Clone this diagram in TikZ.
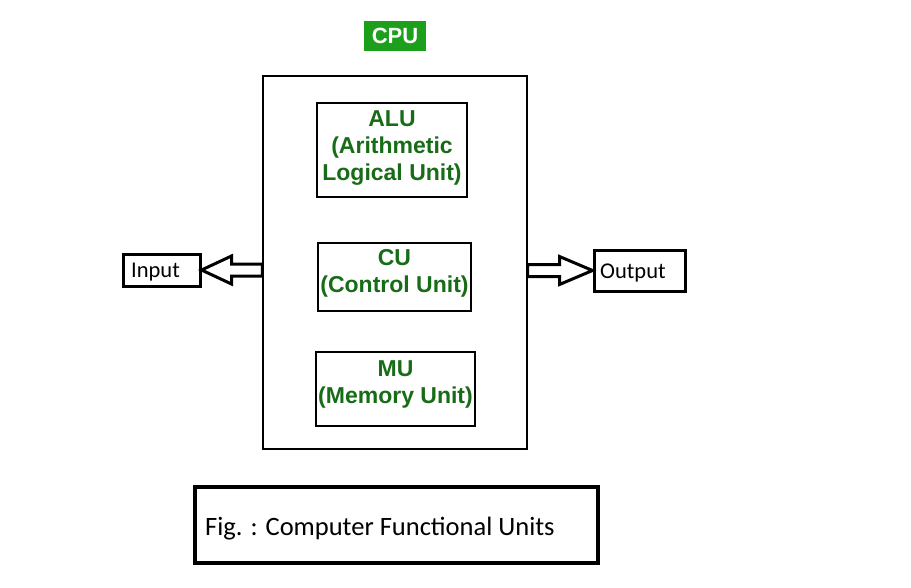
\documentclass[tikz,border=0pt]{standalone}
\usepackage{fontspec}
\setmainfont{Liberation Sans}
\newfontfamily\calfont{Carlito}
\usetikzlibrary{calc}
\definecolor{unitgreen}{RGB}{24,108,24}
\definecolor{labelgreen}{RGB}{28,160,28}
\begin{document}
\begin{tikzpicture}[x=1pt,y=-1pt,
    unit/.style={draw,line width=1.2pt,inner sep=0pt},
    unittext/.style={align=center,text=unitgreen,inner sep=0pt,
      font=\fontsize{23}{27}\selectfont\bfseries},
    iobox/.style={draw,line width=3pt,inner sep=0pt},
    iotext/.style={anchor=base west,font=\calfont\fontsize{22.5}{26}\selectfont,inner sep=0pt},
    barrow/.style={draw,line width=3pt,fill=white,line join=miter}]
  \useasboundingbox[fill=white] (0,0) rectangle (911,587);
  \node[draw,line width=1.2pt,minimum width=264pt,minimum height=373pt] (cpu) at (395,262.5) {};
  \node[fill=labelgreen,text=white,minimum width=62pt,minimum height=30pt,
    font=\fontsize{22}{26}\selectfont\bfseries,inner sep=0pt] (cpulabel) at (395,36) {CPU};
  \node[unit,minimum width=150pt,minimum height=94pt] (alu) at (392,150) {};
  \node[unittext] (alutext) at ($(alu.center)+(0,-2)$) {ALU\\(Arithmetic\\Logical Unit)};
  \node[unit,minimum width=153pt,minimum height=68pt] (cu) at (394.5,277) {};
  \node[unittext] (cutext) at ($(cu.center)+(0,-4)$) {CU\\(Control Unit)};
  \node[unit,minimum width=159pt,minimum height=74pt] (mu) at (395.5,389) {};
  \node[unittext] (mutext) at ($(mu.center)+(0,-5)$) {MU\\(Memory Unit)};
  \node[iobox,minimum width=77pt,minimum height=32pt] (in) at (161.5,270) {};
  \node[iotext] (intext) at (131,277) {Input};
  \node[iobox,minimum width=91pt,minimum height=41pt] (out) at (639.5,270.5) {};
  \node[iotext] (outtext) at (600,278) {Output};
  \node[draw,line width=3.5pt,minimum width=403pt,minimum height=76pt] (caption) at (396.5,525) {};
  \node[iotext,font=\calfont\fontsize{26.5}{30}\selectfont] (captext) at (205,535) {Fig. : Computer Functional Units};
  \begin{scope}[barrow]
    \draw (in.east) -- ++(30,-14) |- ($(cpu.west |- in.east)+(0,-6)$) -- ++(0,12)
      -| ($(in.east)+(30,14)$) -- cycle;
    \draw (out.west) -- ++(-33,-14) |- ($(cpu.east |- out.west)+(0,-6)$) -- ++(0,12)
      -| ($(out.west)+(-33,14)$) -- cycle;
  \end{scope}
\end{tikzpicture}
\end{document}
